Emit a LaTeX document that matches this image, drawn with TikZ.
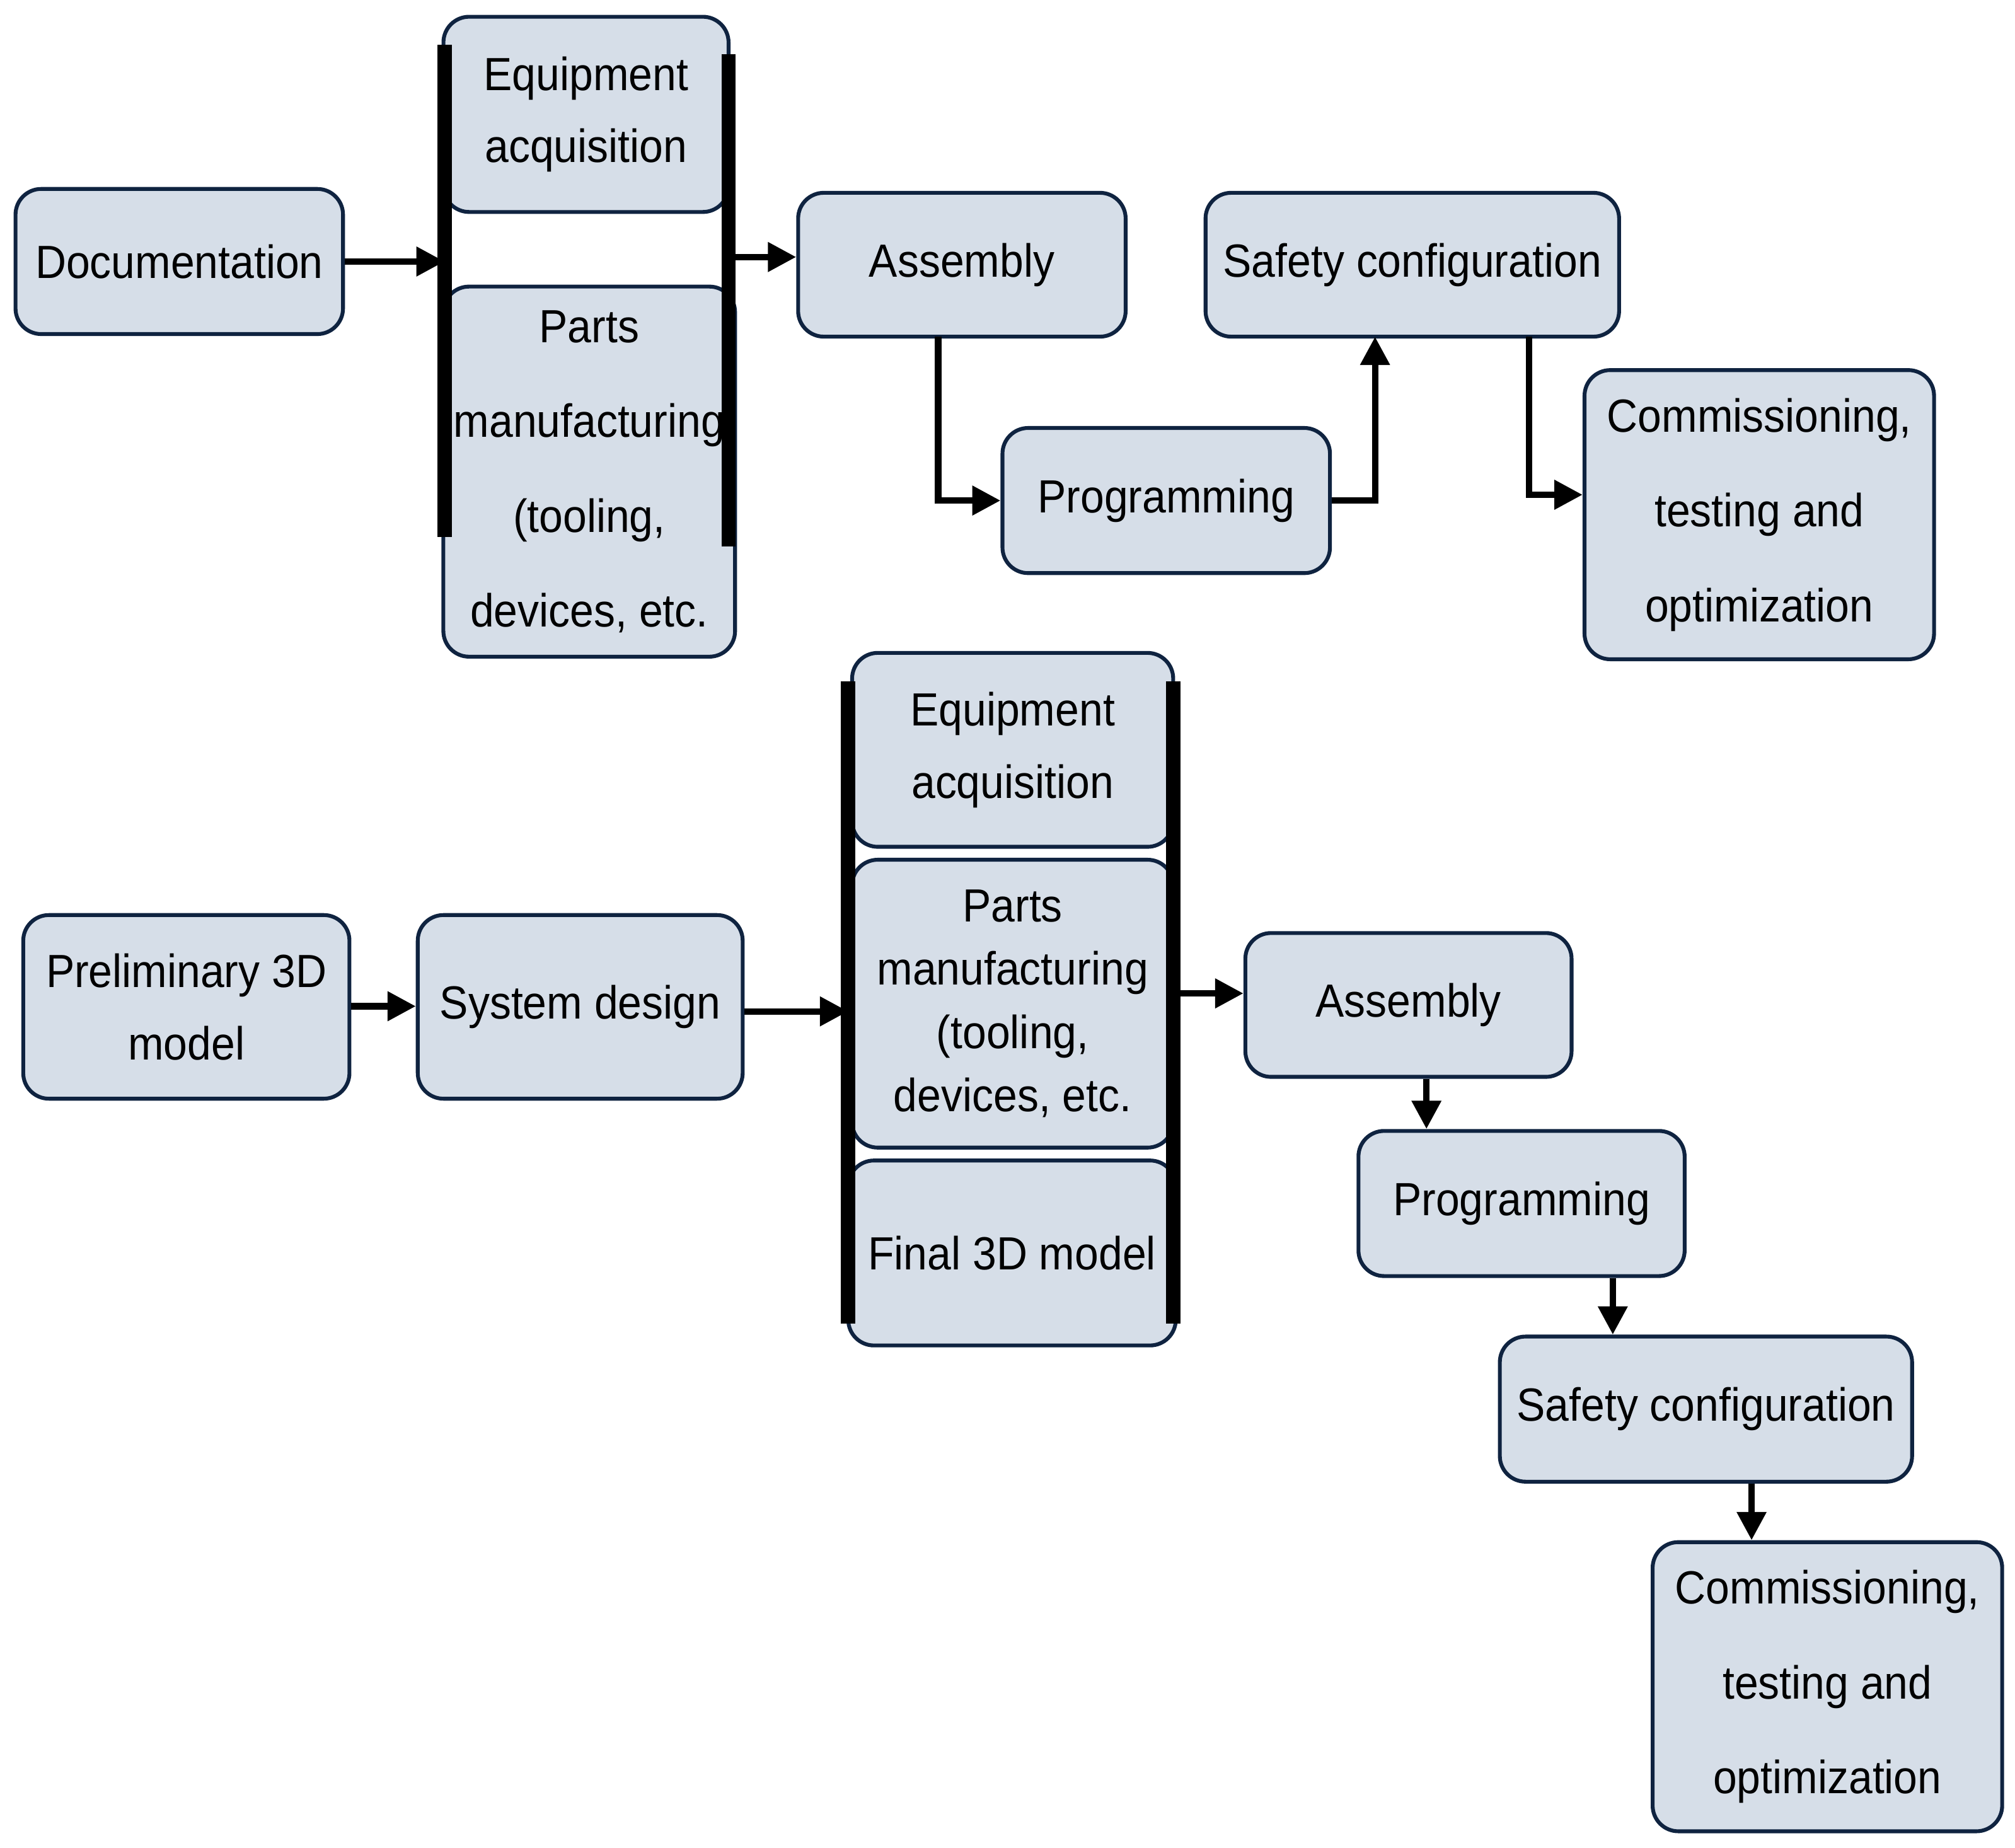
\documentclass[tikz,border=0pt]{standalone}
\usepackage{fontspec}
\setmainfont{Liberation Sans}[FakeStretch=0.92]
\usetikzlibrary{arrows.meta}
\definecolor{boxfill}{HTML}{D6DEE8}
\definecolor{boxline}{HTML}{0F2340}
\tikzset{
  bx/.style={draw=boxline,fill=boxfill,line width=0.03cm,rounded corners=0.2cm,align=center,inner sep=0pt,font=\fontsize{10.3}{16}\selectfont},
  arr/.style={line width=0.05cm,-{Triangle[length=0.22cm,width=0.22cm]}},
  bar/.style={line width=0.11cm}
}
\newcommand{\bx}[6]{\node[bx,minimum width={(#4-#2)*0.01cm},minimum height={(#5-#3)*0.01cm}] (#1) at ({(#2+#4)/200},{-(#3+#5)/200}) {#6};}
\begin{document}
\begin{tikzpicture}
\useasboundingbox (0,0) rectangle (15.68,-14.38);
% top
\bx{doc}{12}{147}{267}{260}{Documentation}
\bx{eqa}{345}{13}{567}{165}{Equipment\\acquisition}
\node[bx,minimum width=2.27cm,minimum height=2.88cm,font=\fontsize{10.3}{21}\selectfont] (pma) at (4.585,-3.67) {Parts\\manufacturing\\(tooling,\\devices, etc.};
\coordinate (b1t) at (3.46,-0.35); \coordinate (b1b) at (3.46,-4.18);
\coordinate (b2t) at (5.67,-0.42); \coordinate (b2b) at (5.67,-4.25);
\draw[bar] (b1t)--(b1b); \draw[bar] (b2t)--(b2b);
\bx{asa}{621}{150}{876}{262}{Assembly}
\bx{saa}{938}{150}{1260}{262}{Safety configuration}
\bx{pra}{780}{333}{1035}{446}{Programming}
\node[bx,minimum width=2.72cm,minimum height=2.25cm,font=\fontsize{10.3}{21}\selectfont] (coa) at (13.69,-4.005) {Commissioning,\\testing and\\optimization};
\draw[arr] (doc.east) -- (doc.east -| b1t);
\draw[arr] (b2t |- 0,-2.0) -- (asa.west |- 0,-2.0);
\draw[arr] (7.3,-2.62) |- (pra.west);
\draw[arr] (pra.east) -| (10.7,-2.62);
\draw[arr] (11.9,-2.62) |- (coa.west |- 0,-3.85);
% bottom
\bx{pre}{18}{712}{272}{855}{Preliminary 3D\\model}
\bx{sys}{325}{712}{578}{855}{System design}
\bx{eqb}{663}{508}{913}{659}{Equipment\\acquisition}
\node[bx,minimum width=2.5cm,minimum height=2.24cm,font=\fontsize{10.3}{14}\selectfont] (pmb) at (7.88,-7.81) {Parts\\manufacturing\\(tooling,\\devices, etc.};
\bx{fin}{660}{903}{915}{1047}{Final 3D model}
\coordinate (b3t) at (6.6,-5.3); \coordinate (b3b) at (6.6,-10.3);
\coordinate (b4t) at (9.13,-5.3); \coordinate (b4b) at (9.13,-10.3);
\draw[bar] (b3t)--(b3b); \draw[bar] (b4t)--(b4b);
\bx{asb}{969}{726}{1223}{838}{Assembly}
\bx{prb}{1057}{880}{1311}{993}{Programming}
\bx{sab}{1167}{1040}{1488}{1153}{Safety configuration}
\node[bx,minimum width=2.72cm,minimum height=2.25cm,font=\fontsize{10.3}{21}\selectfont] (cob) at (14.22,-13.125) {Commissioning,\\testing and\\optimization};
\draw[arr] (pre.east |- 0,-7.83) -- (sys.west |- 0,-7.83);
\draw[arr] (sys.east |- 0,-7.87) -- (b3t |- 0,-7.87);
\draw[arr] (b4t |- 0,-7.73) -- (asb.west |- 0,-7.73);
\draw[arr] (asb.south -| 11.1,0) -- (prb.north -| 11.1,0);
\draw[arr] (prb.south -| 12.55,0) -- (sab.north -| 12.55,0);
\draw[arr] (sab.south -| 13.63,0) -- (cob.north -| 13.63,0);
\end{tikzpicture}
\end{document}
